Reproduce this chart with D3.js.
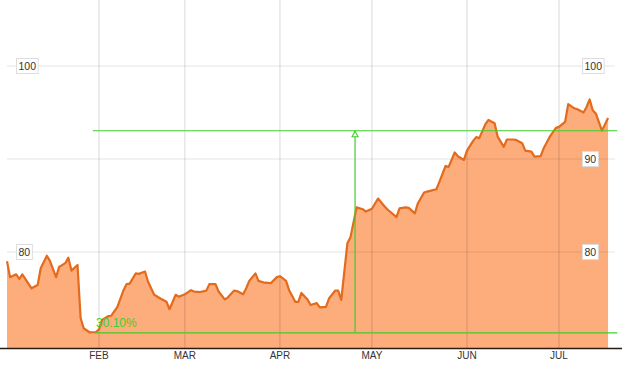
<!DOCTYPE html>
<html>
<head>
<meta charset="utf-8">
<style>
  body { margin: 0; background: #fff; }
  svg { display: block; font-family: "Liberation Sans", Arial, sans-serif; }
</style>
</head>
<body>
<svg width="624" height="390"></svg>
<script src="https://cdn.jsdelivr.net/npm/d3@7"></script>
<script>

// Daily closes (2013)
var dates = [
  "2013-01-02","2013-01-03","2013-01-05","2013-01-06","2013-01-07","2013-01-09","2013-01-10","2013-01-12",
  "2013-01-13","2013-01-15","2013-01-16","2013-01-18","2013-01-19","2013-01-21","2013-01-22","2013-01-23",
  "2013-01-25","2013-01-26","2013-01-27","2013-01-29","2013-01-31","2013-02-01","2013-02-02","2013-02-04",
  "2013-02-05","2013-02-07","2013-02-09","2013-02-10","2013-02-11","2013-02-13","2013-02-14","2013-02-16",
  "2013-02-17","2013-02-19","2013-02-21","2013-02-23","2013-02-24","2013-02-26","2013-02-27","2013-03-01",
  "2013-03-03","2013-03-04","2013-03-06","2013-03-08","2013-03-09","2013-03-11","2013-03-12","2013-03-14",
  "2013-03-15","2013-03-17","2013-03-18","2013-03-20","2013-03-21","2013-03-22","2013-03-24","2013-03-25",
  "2013-03-27","2013-03-29","2013-03-31","2013-04-01","2013-04-03","2013-04-04","2013-04-06","2013-04-07",
  "2013-04-08","2013-04-10","2013-04-11","2013-04-13","2013-04-14","2013-04-16","2013-04-17","2013-04-19",
  "2013-04-20","2013-04-21","2013-04-23","2013-04-24","2013-04-26","2013-04-28","2013-04-29","2013-05-01",
  "2013-05-03","2013-05-05","2013-05-06","2013-05-09","2013-05-10","2013-05-12","2013-05-13","2013-05-15",
  "2013-05-16","2013-05-18","2013-05-19","2013-05-22","2013-05-23","2013-05-25","2013-05-26","2013-05-28",
  "2013-05-29","2013-05-31","2013-06-01","2013-06-03","2013-06-04","2013-06-05","2013-06-07","2013-06-08",
  "2013-06-10","2013-06-11","2013-06-13","2013-06-14","2013-06-16","2013-06-17","2013-06-19","2013-06-20",
  "2013-06-22","2013-06-23","2013-06-25","2013-06-26","2013-06-28","2013-06-30","2013-07-01","2013-07-03",
  "2013-07-04","2013-07-06","2013-07-07","2013-07-09","2013-07-10","2013-07-11","2013-07-12","2013-07-13",
  "2013-07-15","2013-07-17"
];
var closes = [
  79.0, 77.3, 77.6, 77.1, 77.6, 76.6, 76.1, 76.45,
  78.25, 79.6, 79.05, 77.3, 78.4, 78.8, 79.4, 78.0,
  78.6, 72.9, 71.8, 71.35, 71.4, 71.7, 72.7, 73.1,
  73.15, 74.1, 75.9, 76.55, 76.6, 77.7, 77.65, 77.9,
  76.8, 75.4, 75.0, 74.65, 73.85, 75.4, 75.2, 75.45,
  75.9, 75.75, 75.7, 75.85, 76.55, 76.55, 75.75, 74.9,
  75.1, 75.85, 75.8, 75.45, 76.1, 76.9, 77.7, 76.9,
  76.7, 76.65, 77.3, 77.4, 76.9, 75.9, 74.65, 74.65,
  75.6, 74.9, 74.3, 74.5, 74.05, 74.1, 75.0, 75.85,
  75.85, 74.85, 80.95, 81.6, 84.8, 84.6, 84.35, 84.65,
  85.75, 84.95, 84.6, 83.75, 84.7, 84.8, 84.75, 84.15,
  85.25, 86.4, 86.5, 86.75, 87.55, 89.25, 89.15, 90.7,
  90.3, 89.9, 90.9, 91.95, 92.35, 92.25, 93.75, 94.2,
  93.85, 92.4, 91.3, 92.1, 92.1, 92.05, 91.7, 90.9,
  90.8, 90.25, 90.3, 91.15, 92.4, 93.35, 93.45, 94.0,
  95.9, 95.45, 95.35, 95.0, 95.6, 96.4, 95.25, 94.9,
  93.05, 94.4
];

// Axis ticks
var monthTicks = ["2013-02-01","2013-03-01","2013-04-01","2013-05-01","2013-06-01","2013-07-01"];
var monthLabels = ["FEB","MAR","APR","MAY","JUN","JUL"];
var gridValues = [100, 90, 80];
var leftLabels = [100, 80];
var rightLabels = [100, 90, 80];

// Range annotation (low / high levels, marker date, label)
var annLow = 71.3;
var annHigh = 93.04;
var annSpan = ["2013-01-30", "2013-07-20"];
var annDate = "2013-04-25";
var annLabel = "30.10%";

var parse = d3.timeParse("%Y-%m-%d");
var data = dates.map(function(d, i) { return {date: parse(d), close: closes[i]}; });

var svg = d3.select("svg");

var x = d3.scaleTime()
    .domain([parse("2013-02-01"), parse("2013-07-01")])
    .range([99, 559]);

var y = d3.scaleLinear()
    .domain([69.68, 100])
    .range([348, 66]);

var base = 348;

// area + line
var area = d3.area()
    .x(function(d) { return x(d.date); })
    .y0(base)
    .y1(function(d) { return y(d.close); });

var line = d3.line()
    .x(function(d) { return x(d.date); })
    .y(function(d) { return y(d.close); });

svg.append("path")
    .datum(data)
    .attr("fill", "#fdac7c")
    .attr("d", area);

// grid drawn over the fill, translucent so it shows through
svg.append("g").selectAll("line")
    .data(monthTicks)
  .enter().append("line")
    .attr("x1", function(d) { return x(parse(d)); })
    .attr("x2", function(d) { return x(parse(d)); })
    .attr("y1", 0)
    .attr("y2", base)
    .attr("stroke", "rgba(0,0,0,0.1)")
    .attr("stroke-width", 1.5);

svg.append("g").selectAll("line")
    .data(gridValues)
  .enter().append("line")
    .attr("x1", 7)
    .attr("x2", 615)
    .attr("y1", function(d) { return y(d); })
    .attr("y2", function(d) { return y(d); })
    .attr("stroke", "rgba(0,0,0,0.1)")
    .attr("stroke-width", 1.2);

svg.append("path")
    .datum(data)
    .attr("fill", "none")
    .attr("stroke", "#e46a1c")
    .attr("stroke-width", 2.2)
    .attr("stroke-linejoin", "round")
    .attr("d", line);

// bottom axis
svg.append("line")
    .attr("x1", 0).attr("x2", 622)
    .attr("y1", base + 0.5).attr("y2", base + 0.5)
    .attr("stroke", "#2a1a10")
    .attr("stroke-width", 1.5);

svg.append("g").selectAll("text")
    .data(monthTicks)
  .enter().append("text")
    .attr("x", function(d) { return x(parse(d)); })
    .attr("y", 359)
    .attr("text-anchor", "middle")
    .attr("font-size", 10)
    .attr("fill", "#333")
    .text(function(d, i) { return monthLabels[i]; });

// value labels in little boxes
function valueLabels(values, left) {
  var g = svg.append("g").selectAll("g")
      .data(values)
    .enter().append("g")
      .attr("transform", function(d) { return "translate(" + left + "," + y(d) + ")"; });
  g.append("text")
      .attr("x", 2)
      .attr("dy", "0.35em")
      .attr("font-size", 10.5)
      .attr("fill", "#333")
      .text(function(d) { return d; })
    .each(function() {
      var w = this.getBBox().width;
      d3.select(this.parentNode).insert("rect", "text")
          .attr("x", 0)
          .attr("y", -7.5)
          .attr("width", w + 4)
          .attr("height", 15)
          .attr("fill", "#fff")
          .attr("stroke", "#ddd");
    });
}
valueLabels(leftLabels, 16.5);
valueLabels(rightLabels, 582.5);

// range annotation
var green = "#3fcf2a";
svg.append("line")
    .attr("x1", x(parse(annSpan[0]))).attr("x2", x(parse(annSpan[1])))
    .attr("y1", y(annHigh)).attr("y2", y(annHigh))
    .attr("stroke", green).attr("stroke-width", 1.2);
svg.append("line")
    .attr("x1", x(parse(annSpan[0])) + 2).attr("x2", x(parse(annSpan[1])))
    .attr("y1", y(annLow)).attr("y2", y(annLow))
    .attr("stroke", green).attr("stroke-width", 1.2);

var ax = x(d3.timeHour.offset(parse(annDate), 12));
svg.append("line")
    .attr("x1", ax).attr("x2", ax)
    .attr("y1", y(annHigh)).attr("y2", y(annLow))
    .attr("stroke", green).attr("stroke-width", 1.2);
svg.append("path")
    .attr("d", "M" + ax + "," + (y(annHigh) + 0.5) + "l3,5.5h-6z")
    .attr("fill", "#fff")
    .attr("stroke", green)
    .attr("stroke-width", 1.1);

svg.append("text")
    .attr("x", 96)
    .attr("y", y(annLow) - 6)
    .attr("font-size", 12)
    .attr("fill", green)
    .text(annLabel);

</script>
</body>
</html>
